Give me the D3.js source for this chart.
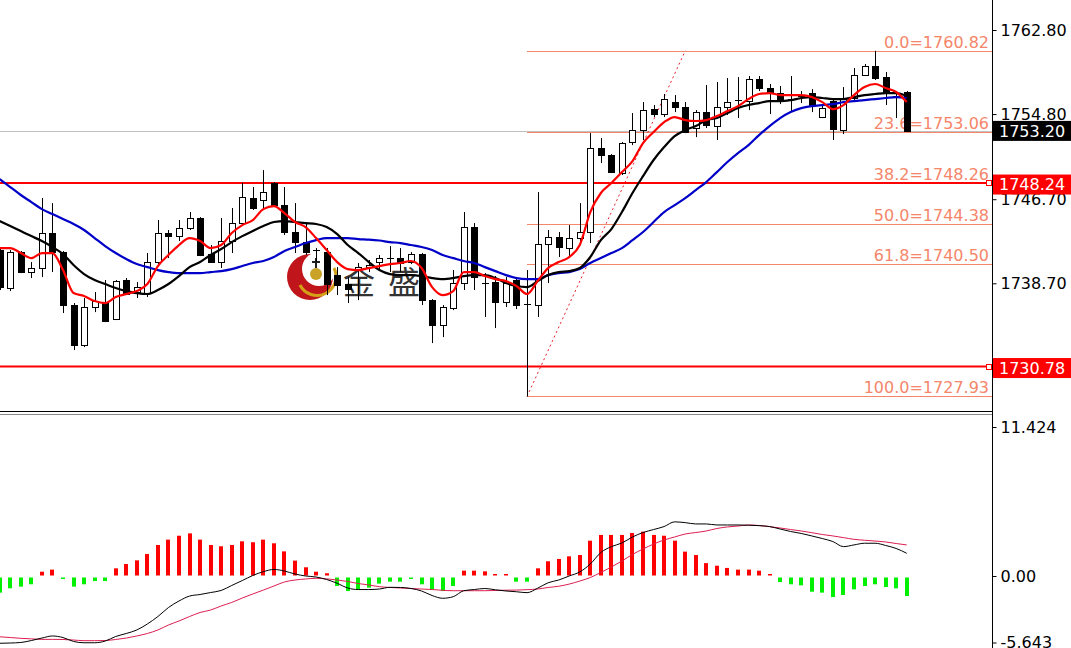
<!DOCTYPE html>
<html><head><meta charset="utf-8">
<script src="https://cdn.jsdelivr.net/npm/d3@7"></script>
<style>html,body{margin:0;padding:0;background:#fff;}svg{display:block;}</style>
</head><body><div id="chart"></div>
<script>
// ---------- data ----------
const opens  = [1741.86,1738.25,1741.67,1739.77,1740.15,1743.48,1741.67,1736.63,1732.82,1736.44,1736.91,1735.30,1739.01,1737.87,1737.77,1740.72,1743.48,1743.19,1743.96,1744.91,1741.48,1740.72,1742.72,1744.43,1746.81,1746.62,1748.24,1746.14,1743.58,1742.62,1741.77,1741.67,1739.48,1738.63,1739.96,1740.24,1740.72,1741.01,1741.10,1740.72,1741.48,1737.10,1734.73,1736.34,1738.72,1744.05,1738.72,1738.82,1736.91,1739.01,1736.72,1736.63,1742.43,1743.10,1742.05,1743.00,1743.58,1751.57,1750.90,1749.19,1752.14,1753.28,1755.28,1754.80,1755.94,1755.47,1753.47,1754.99,1753.66,1755.47,1756.04,1756.04,1758.13,1757.28,1756.80,1756.13,1756.42,1756.80,1754.52,1756.04,1753.28,1756.33,1758.51,1759.37,1758.32,1756.52,1756.90];
const highs  = [1742.05,1741.86,1741.77,1740.72,1746.81,1746.33,1741.77,1736.82,1737.30,1737.87,1739.01,1739.01,1739.20,1738.82,1741.58,1744.72,1743.77,1744.72,1745.48,1745.00,1742.34,1744.91,1745.86,1748.24,1747.86,1749.47,1748.33,1747.86,1746.33,1744.53,1742.05,1742.05,1740.24,1739.29,1740.63,1740.91,1741.39,1742.24,1742.05,1741.67,1741.58,1737.20,1736.63,1739.96,1745.48,1744.43,1739.67,1739.39,1739.29,1739.29,1739.96,1747.38,1743.77,1743.58,1744.24,1746.33,1752.99,1752.52,1750.99,1752.14,1754.90,1755.94,1755.66,1756.71,1756.61,1755.94,1755.18,1757.56,1757.85,1758.23,1758.32,1758.42,1758.42,1757.66,1757.47,1758.42,1756.99,1757.18,1755.66,1756.23,1757.37,1759.18,1759.56,1760.82,1758.80,1756.80,1756.99];
const lows   = [1738.06,1737.96,1739.67,1739.20,1739.29,1739.77,1735.87,1732.35,1732.63,1735.96,1735.01,1735.20,1737.58,1737.30,1737.39,1740.44,1741.10,1742.72,1743.77,1741.29,1740.63,1740.15,1741.58,1744.24,1745.67,1745.67,1746.05,1743.29,1741.58,1741.39,1740.72,1737.58,1737.58,1736.82,1737.10,1739.77,1739.96,1739.77,1739.77,1740.53,1736.63,1733.01,1733.58,1736.15,1738.06,1738.06,1735.49,1734.44,1736.44,1736.25,1727.93,1735.49,1738.72,1741.20,1741.10,1742.53,1742.53,1750.14,1749.19,1749.00,1751.85,1752.33,1754.52,1754.52,1754.99,1752.99,1752.61,1753.47,1752.33,1754.71,1754.42,1755.18,1756.99,1754.80,1755.75,1754.99,1755.85,1754.99,1754.42,1752.33,1752.90,1756.04,1758.42,1758.04,1755.66,1754.42,1753.10];
const closes = [1738.34,1741.67,1739.77,1740.15,1743.48,1741.67,1736.63,1732.82,1736.44,1737.01,1735.11,1738.91,1737.68,1738.34,1740.72,1743.48,1743.19,1743.96,1744.91,1741.39,1740.72,1742.72,1744.43,1746.91,1745.86,1747.38,1746.14,1743.58,1742.62,1741.67,1741.86,1738.63,1738.53,1738.15,1740.24,1740.44,1741.10,1741.10,1740.63,1741.48,1737.10,1734.73,1736.44,1738.72,1744.05,1739.29,1738.63,1736.91,1738.72,1736.63,1736.63,1742.43,1743.10,1742.15,1743.00,1743.58,1751.57,1750.90,1749.28,1752.04,1753.28,1755.18,1754.80,1756.23,1755.47,1753.09,1754.99,1753.76,1755.47,1755.94,1756.13,1758.13,1757.28,1756.80,1756.04,1756.23,1756.52,1755.66,1755.37,1753.38,1756.33,1758.51,1759.37,1758.23,1756.80,1756.42,1753.20];

const maFast = [1742.05,1742.05,1741.58,1741.10,1741.58,1741.58,1739.96,1737.77,1737.49,1737.01,1736.82,1737.39,1737.68,1737.96,1738.63,1740.34,1741.39,1742.34,1743.00,1742.72,1742.05,1742.34,1743.48,1744.24,1744.72,1745.76,1746.05,1745.38,1744.53,1744.05,1743.00,1741.86,1740.72,1740.05,1739.96,1740.15,1740.34,1740.53,1740.63,1740.82,1740.15,1738.34,1737.58,1737.96,1739.77,1739.77,1739.39,1739.10,1738.91,1738.44,1737.68,1738.91,1740.15,1740.72,1741.20,1742.34,1745.48,1747.29,1748.24,1749.28,1750.33,1752.04,1753.09,1754.04,1754.52,1754.23,1754.14,1754.23,1754.61,1755.09,1755.56,1756.23,1756.71,1756.80,1756.61,1756.61,1756.61,1756.42,1755.94,1755.28,1755.66,1756.61,1757.37,1757.66,1757.28,1756.90,1755.94];
const maMid  = [1744.62,1744.15,1743.67,1743.19,1742.72,1742.15,1741.48,1740.44,1739.58,1739.01,1738.63,1738.25,1737.96,1737.77,1737.68,1738.06,1738.63,1739.39,1740.24,1740.72,1741.39,1741.96,1742.62,1743.19,1743.67,1744.15,1744.53,1744.62,1744.53,1744.43,1744.34,1744.05,1743.38,1742.34,1741.58,1740.72,1739.96,1739.58,1739.48,1739.48,1739.39,1739.20,1739.10,1739.20,1739.39,1739.48,1739.48,1739.20,1738.72,1738.44,1738.34,1738.91,1739.48,1739.77,1739.86,1740.15,1741.20,1742.81,1743.86,1745.48,1747.29,1748.90,1750.43,1751.66,1752.71,1753.28,1753.66,1754.23,1754.42,1754.90,1755.37,1755.66,1755.85,1756.04,1756.04,1756.13,1756.33,1756.42,1756.33,1756.23,1756.23,1756.42,1756.61,1756.71,1756.80,1756.80,1756.52];
const maSlow = [1748.62,1747.86,1747.10,1746.43,1745.76,1745.29,1744.81,1744.34,1743.77,1743.00,1742.24,1741.58,1741.01,1740.53,1740.24,1739.96,1739.77,1739.67,1739.67,1739.67,1739.77,1739.86,1740.05,1740.34,1740.63,1740.82,1741.20,1741.77,1742.15,1742.53,1742.81,1743.00,1743.00,1743.00,1742.91,1742.86,1742.77,1742.62,1742.53,1742.34,1742.15,1741.86,1741.39,1741.10,1740.82,1740.63,1740.24,1739.86,1739.48,1739.20,1739.10,1739.10,1739.48,1739.67,1739.77,1740.05,1740.63,1741.10,1741.58,1742.05,1742.81,1743.58,1744.53,1745.48,1746.14,1746.81,1747.57,1748.33,1749.28,1750.24,1751.09,1751.85,1752.80,1753.66,1754.42,1754.99,1755.37,1755.56,1755.66,1755.75,1755.94,1756.04,1756.13,1756.23,1756.33,1756.42,1756.33];

const macdHist = [-1.16,-0.83,-0.70,-0.52,0.29,0.45,-0.05,-0.70,-0.52,-0.27,-0.27,0.55,0.88,1.16,1.65,2.34,2.75,3.05,3.23,2.75,2.34,2.24,2.34,2.62,2.55,2.75,2.47,1.85,1.14,0.63,0.29,0.17,-0.65,-1.04,-0.91,-0.78,-0.47,-0.32,-0.32,-0.03,-0.52,-0.91,-1.04,-0.65,0.37,0.37,0.32,0.05,0.05,-0.32,-0.32,0.55,1.09,1.27,1.47,1.57,2.67,3.11,3.11,3.11,3.26,3.36,3.11,3.05,2.67,1.83,1.57,0.95,0.75,0.58,0.45,0.45,0.37,0.05,-0.35,-0.52,-0.60,-1.09,-1.16,-1.50,-1.34,-0.91,-0.65,-0.52,-0.73,-0.83,-1.42];
const macdMain = [-5.12,-5.10,-5.06,-4.91,-4.72,-4.56,-4.68,-4.98,-5.08,-5.08,-4.95,-4.60,-4.37,-4.10,-3.64,-3.07,-2.38,-1.88,-1.50,-1.38,-1.23,-1.07,-0.69,-0.31,0.08,0.37,0.54,0.42,0.19,0.04,-0.04,-0.23,-0.52,-0.88,-1.00,-1.00,-0.96,-0.83,-0.84,-0.92,-1.11,-1.46,-1.67,-1.55,-1.09,-1.00,-0.92,-1.02,-1.11,-1.17,-1.24,-0.90,-0.48,-0.27,0.04,0.35,0.96,1.84,2.29,2.57,3.03,3.37,3.60,3.83,4.19,4.13,4.03,4.03,3.95,3.95,3.95,3.93,3.90,3.83,3.64,3.45,3.30,3.11,2.91,2.68,2.29,2.42,2.55,2.55,2.38,2.15,1.78];
const macdSignal = [-4.62,-4.68,-4.74,-4.78,-4.82,-4.82,-4.83,-4.87,-4.92,-4.92,-4.91,-4.83,-4.72,-4.56,-4.37,-4.10,-3.72,-3.41,-3.07,-2.76,-2.57,-2.26,-1.99,-1.65,-1.34,-1.04,-0.73,-0.42,-0.27,-0.19,-0.14,-0.18,-0.27,-0.38,-0.54,-0.65,-0.78,-0.84,-0.88,-0.92,-0.96,-1.00,-1.06,-1.09,-1.09,-1.09,-1.09,-1.07,-1.05,-1.04,-1.01,-0.96,-0.84,-0.75,-0.58,-0.35,-0.08,0.31,0.73,1.19,1.69,2.11,2.49,2.80,3.03,3.26,3.37,3.49,3.68,3.80,3.87,3.95,3.91,3.82,3.72,3.60,3.49,3.36,3.22,3.11,2.98,2.85,2.78,2.72,2.65,2.53,2.42];

const priceTicks = [1762.80, 1754.80, 1746.70, 1738.70];
const macdTicks  = [11.424, 0.00, -5.643];
const fibLevels  = ["0.0", "23.6", "38.2", "50.0", "61.8", "100.0"];
const fibPrices  = [1760.82, 1753.06, 1748.26, 1744.38, 1740.50, 1727.93];
const fibStartIdx = 50, fibTrendEndIdx = 65;
const hLines = [1748.24, 1730.78];
const bidPrice = 1753.20;

// ---------- layout ----------
const W = 1071, H = 648, axisX = 992;
const fibColor = "#f5866a";
const font = "DejaVu Sans, Verdana, sans-serif";

const svg = d3.select("#chart").append("svg").attr("width", W).attr("height", H);
svg.append("rect").attr("width", W).attr("height", H).attr("fill", "#fff");

const n = closes.length;
const x = d3.scaleLinear().domain([0, n - 1]).range([-0.3, 906.7]);
const y = d3.scaleLinear().domain([1738.70, 1762.80]).range([283.3, 30]);
const ym = d3.scaleLinear().domain([0, 11.424]).range([576.5, 427.5]);

const main = svg.append("g");
main.append("clipPath").attr("id","clipMain").append("rect").attr("x",0).attr("y",0).attr("width",axisX).attr("height",410);
const mg = main.append("g").attr("clip-path","url(#clipMain)");

// watermark logo
const logo = mg.append("g");
logo.append("circle").attr("cx",310).attr("cy",277).attr("r",23).attr("fill","#c0161b");
logo.append("circle").attr("cx",319).attr("cy",269).attr("r",17).attr("fill","#fff");
logo.append("path").attr("d","M300,285 A17,17 0 0 0 334,268").attr("fill","none").attr("stroke","#d4a017").attr("stroke-width",3);
logo.append("circle").attr("cx",316).attr("cy",274).attr("r",6).attr("fill","#c9a227");
logo.append("line").attr("x1",316).attr("x2",316).attr("y1",258).attr("y2",268).attr("stroke","#222").attr("stroke-width",2);
logo.append("line").attr("x1",312).attr("x2",320).attr("y1",262).attr("y2",262).attr("stroke","#222").attr("stroke-width",2);
mg.append("text").attr("x",343).attr("y",294).attr("font-family","Noto Sans CJK SC").attr("font-size",32).attr("fill","#333").text("金");
mg.append("text").attr("x",388).attr("y",294).attr("font-family","Noto Sans CJK SC").attr("font-size",32).attr("fill","#333").text("盛");

// bid line
mg.append("line").attr("x1",0).attr("x2",axisX).attr("y1",Math.round(y(bidPrice))+0.5).attr("y2",Math.round(y(bidPrice))+0.5)
  .attr("stroke","#c0c0c0").attr("stroke-width",1);

// fib lines & labels
const fibX0 = x(fibStartIdx);
fibPrices.forEach((p, k) => {
  const yy = Math.round(y(p)) + 0.5;
  mg.append("line").attr("x1",fibX0).attr("x2",axisX).attr("y1",yy).attr("y2",yy).attr("stroke",fibColor).attr("stroke-width",1);
  mg.append("text").attr("x",989).attr("y",yy-4).attr("text-anchor","end").attr("font-family",font).attr("font-size",16)
    .attr("fill",fibColor).text(fibLevels[k] + "=" + p.toFixed(2));
});
// fib trend (dotted)
mg.append("line").attr("x1",x(fibStartIdx)).attr("y1",y(fibPrices[5])).attr("x2",x(fibTrendEndIdx)).attr("y2",y(fibPrices[0]))
  .attr("stroke","#e8202a").attr("stroke-width",1).attr("stroke-dasharray","2,3");

// horizontal red lines
hLines.forEach(p => {
  const yy = y(p);
  mg.append("line").attr("x1",0).attr("x2",axisX).attr("y1",yy).attr("y2",yy).attr("stroke","#ff0000").attr("stroke-width",2);
});

// candles
const cg = mg.append("g");
d3.range(n).forEach(i => {
  const cx = Math.round(x(i)) + 0.5;
  cg.append("line").attr("x1",cx).attr("x2",cx).attr("y1",y(highs[i])).attr("y2",y(lows[i])).attr("stroke","#000").attr("stroke-width",1);
  const up = closes[i] >= opens[i];
  const top = Math.round(y(Math.max(opens[i], closes[i])));
  const bot = Math.round(y(Math.min(opens[i], closes[i])));
  if (bot - top < 1.5) {
    cg.append("line").attr("x1",cx-3.5).attr("x2",cx+3.5).attr("y1",top+0.5).attr("y2",top+0.5).attr("stroke","#000").attr("stroke-width",1);
  } else {
    cg.append("rect").attr("x",cx-3).attr("y",top+0.5).attr("width",6).attr("height",bot-top)
      .attr("fill", up ? "#fff" : "#000").attr("stroke","#000").attr("stroke-width",1);
  }
});

// moving averages
const maLine = d3.line().x((d,i) => x(i)).y(d => y(d)).curve(d3.curveMonotoneX);
[[maSlow,"#0000c8"],[maMid,"#000"],[maFast,"#ff0000"]].forEach(([arr,c]) => {
  mg.append("path").attr("d", maLine(arr)).attr("fill","none").attr("stroke",c).attr("stroke-width",2.2);
});

// small square markers at right end of horizontal lines
hLines.forEach(p => {
  svg.append("rect").attr("x",986.5).attr("y",Math.round(y(p))-2.5).attr("width",5).attr("height",5)
    .attr("fill","#fff").attr("stroke","#ff0000").attr("stroke-width",1);
});

// panel separator
svg.append("line").attr("x1",0).attr("x2",axisX).attr("y1",411.5).attr("y2",411.5).attr("stroke","#000");
svg.append("line").attr("x1",0).attr("x2",axisX).attr("y1",414.5).attr("y2",414.5).attr("stroke","#888");

// ---------- MACD panel ----------
const mp = svg.append("g");
mp.append("clipPath").attr("id","clipMacd").append("rect").attr("x",0).attr("y",415).attr("width",axisX).attr("height",H-415);
const mpg = mp.append("g").attr("clip-path","url(#clipMacd)");
d3.range(n).forEach(i => {
  const v = macdHist[i];
  const cx = Math.round(x(i));
  const y0 = ym(0), y1 = ym(v);
  const h = Math.max(Math.abs(y1 - y0), 1.5);
  mpg.append("rect").attr("x",cx-2).attr("width",4)
    .attr("y", v >= 0 ? y0 - h - 1 : y0 + 1).attr("height", h)
    .attr("fill", v >= 0 ? "#ff0000" : "#00f000");
});
const mLine = d3.line().x((d,i) => x(i)).y(d => ym(d)).curve(d3.curveMonotoneX);
mpg.append("path").attr("d", mLine(macdSignal)).attr("fill","none").attr("stroke","#dc1e50").attr("stroke-width",1);
mpg.append("path").attr("d", mLine(macdMain)).attr("fill","none").attr("stroke","#000").attr("stroke-width",1);

// ---------- right axis ----------
svg.append("line").attr("x1",axisX+0.5).attr("x2",axisX+0.5).attr("y1",0).attr("y2",H).attr("stroke","#000");
const axG = svg.append("g").attr("transform",`translate(${axisX+0.5},0)`);
const yAxis = d3.axisRight(y).tickValues(priceTicks).tickFormat(d => d.toFixed(2)).tickSize(4).tickPadding(4);
axG.call(yAxis);
const mAxis = d3.axisRight(ym).tickValues(macdTicks).tickFormat(d => d === 0 ? "0.00" : d.toFixed(3)).tickSize(4).tickPadding(4);
const maG = svg.append("g").attr("transform",`translate(${axisX+0.5},0)`).call(mAxis);
[axG, maG].forEach(g => {
  g.select(".domain").remove();
  g.selectAll(".tick line").attr("stroke","#000");
  g.selectAll(".tick text").attr("font-family",font).attr("font-size",16).attr("fill","#000");
});
maG.selectAll(".tick").attr("transform", d => `translate(0,${Math.min(ym(d), 643)})`);

// price label boxes
function priceBox(p, bg, fg, dy) {
  const yy = y(p) + dy;
  svg.append("rect").attr("x",axisX+1).attr("y",yy-10).attr("width",W-axisX-1).attr("height",20).attr("fill",bg);
  svg.append("text").attr("x",axisX+7).attr("y",yy).attr("dy","0.36em").attr("font-family",font).attr("font-size",16)
    .attr("fill",fg).text(p.toFixed(2));
}
priceBox(bidPrice, "#000", "#fff", 0);
hLines.forEach(p => priceBox(p, "#ff0000", "#fff", 1.5));
</script></body></html>
